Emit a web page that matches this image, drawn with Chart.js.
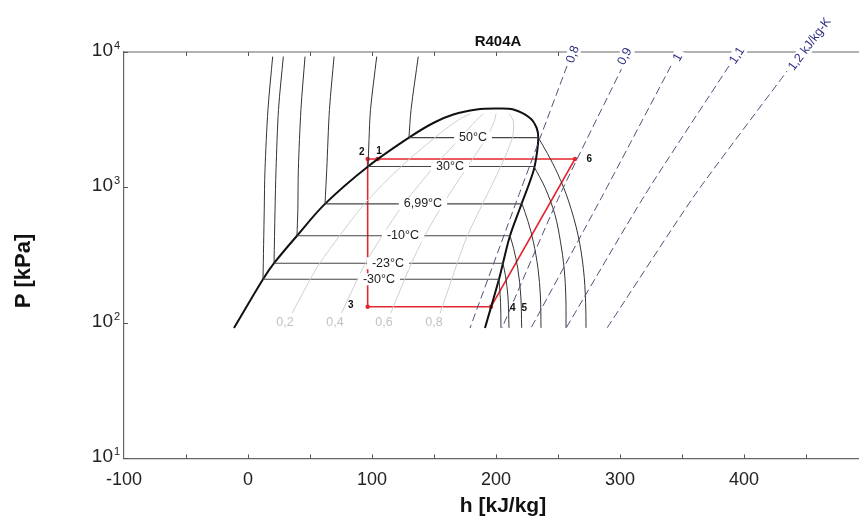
<!DOCTYPE html>
<html><head><meta charset="utf-8">
<script src="https://cdn.jsdelivr.net/npm/chart.js@4/dist/chart.umd.min.js"></script>
<style>
html,body{margin:0;padding:0;background:#fff;overflow:hidden;width:859px;height:517px;}
#wrap{width:859px;height:517px;overflow:hidden;position:relative;}
canvas{display:block;}
</style></head><body>
<div id="wrap"><canvas id="c" width="880" height="517" style="width:880px;height:517px"></canvas></div>
<script>
const FONT = "'Liberation Sans', Arial, Helvetica, sans-serif";

// axis ticks
const xTickValues = [-100, 0, 100, 200, 300, 400];
const yDecades = [10, 100, 1000, 10000];
const yDecadeExp = ['1', '2', '3', '4'];

// saturation dome (h kJ/kg, P kPa)
const liquidH = [-11.3, 12.1, 21.0, 39.5, 62.1, 96.8, 129.8, 149.4, 165.6, 184.4, 199.2];
const liquidP = [91.6, 210, 276, 440, 757, 1429, 2333, 2992, 3452, 3758, 3820];
const vaporH = [199.2, 214.0, 227.4, 232.8, 234.1, 232.8, 230.1, 219.4, 211.3, 205.6, 202.4, 191.1];
const vaporP = [3820, 3758, 3258, 2748, 2317, 1746, 1312, 705, 440, 276, 210, 91.6];

// isotherms
const isoLabels = ['-30°C', '-23°C', '-10°C', '6,99°C', '30°C', '50°C'];
const isoSatP = [210, 276, 440, 757, 1429, 2333];
const isoLiqH = [12.1, 21.0, 39.5, 62.1, 96.8, 129.8];
const isoVapH = [202.4, 205.6, 211.3, 221.0, 230.6, 234.1];
const isoLabelH = [105.6, 112.9, 125.0, 141.1, 162.9, 181.5];

const subcooledH = [
  [12.1, 13.1, 13.7, 16.1, 19.9],
  [21.0, 21.8, 22.6, 24.6, 28.5],
  [39.5, 40.2, 40.6, 42.7, 46.0],
  [62.1, 63.5, 65.7, 69.4],
  [96.8, 97.6, 98.8, 103.8],
  [129.8, 131.5, 137.3]
];
const subcooledP = [
  [210, 684, 1352, 3758, 9250],
  [276, 684, 1352, 3758, 9250],
  [440, 684, 1352, 3758, 9250],
  [757, 1352, 3758, 9250],
  [1429, 2254, 3758, 9250],
  [2333, 3758, 9250]
];
const superheatedH = [
  [202.4, 203.7, 204.0],
  [205.6, 207.6, 209.6, 210.5],
  [211.3, 214.2, 217.6, 220.0, 220.7],
  [221.0, 225.8, 230.1, 233.9, 235.8, 236.3],
  [230.6, 239.5, 247.5, 252.0, 255.0, 256.3, 256.5],
  [234.1, 241.5, 249.8, 258.5, 266.1, 270.5, 272.3, 272.6]
];
const superheatedP = [
  [210, 141, 92],
  [276, 224, 158, 92],
  [440, 355, 251, 158, 92],
  [757, 562, 398, 251, 158, 92],
  [1429, 1000, 631, 398, 251, 158, 92],
  [2333, 1780, 1260, 795, 447, 251, 141, 92]
];

// vapour quality lines
const qualityLabels = ['0,2', '0,4', '0,6', '0,8'];
const qualityP = [118, 210, 276, 440, 757, 1429, 2333, 3114, 3510];
const qualityH = [
  [35.6, 50.2, 57.9, 73.9, 93.9, 123.6, 150.7, 168.7, 179.5],
  [75.4, 88.2, 94.8, 108.2, 125.7, 150.3, 171.5, 183.8, 189.8],
  [115.1, 126.3, 131.8, 142.6, 157.4, 177.1, 192.4, 198.8, 200.0],
  [154.9, 164.3, 168.7, 176.9, 189.2, 203.8, 213.2, 213.9, 210.3]
];
const qualityLabelH = [29.8, 70.2, 109.7, 150.0];
const qualityLabelP = 100;

// isentropes (kJ/kg-K)
const entropyLabels = ['0,8', '0,9', '1', '1,1', '1,2 kJ/kg-K'];
const entropyP = [7900, 884, 91.6];
const entropyH = [
  [257.3, 218.5, 179.0],
  [302.4, 251.6, 204.8],
  [341.1, 286.3, 228.2],
  [387.9, 320.2, 256.5],
  [437.9, 360.5, 289.5]
];
const entropyLabelH = [262.1, 304.0, 346.8, 394.4, 453.0];
const entropyLabelP = [9583, 9263, 9105, 9422, 11400];
const entropyLabelAngle = [70, 63, 61, 57, 53];

// refrigeration cycle 3-2-1-6-4-3
const cycleH = [96.5, 96.5, 104.6, 263.7, 196.0, 96.5];
const cycleP = [131.8, 1622, 1622, 1622, 131.8, 131.8];
const pointNames = ['1', '2', '3', '4', '5', '6'];
const pointLabelH = [105.6, 91.7, 82.8, 213.5, 222.8, 275.2];
const pointLabelP = [1845, 1815, 135.6, 128.2, 128.2, 1603];

const zip = (hs, ps) => hs.map((h, i) => ({x: h, y: Array.isArray(ps) ? ps[i] : ps}));
const line = (data, color, width, extra) => Object.assign({
  data, showLine: true, borderColor: color, borderWidth: width, pointRadius: 0, fill: false, tension: 0
}, extra || {});

const datasets = [];
qualityH.forEach(hs => datasets.push(line(zip(hs, qualityP), '#cfcfcf', 1, {tension: 0.3})));
entropyH.forEach(hs => datasets.push(line(zip(hs, entropyP), '#50507a', 1, {tension: 0.2, borderDash: [8, 4]})));
subcooledH.forEach((hs, i) => datasets.push(line(zip(hs, subcooledP[i]), '#333', 1, {tension: 0.3})));
superheatedH.forEach((hs, i) => datasets.push(line(zip(hs, superheatedP[i]), '#333', 1, {tension: 0.35})));
isoSatP.forEach((p, i) => datasets.push(line([{x: isoLiqH[i], y: p}, {x: isoVapH[i], y: p}], '#444', 1.1)));
datasets.push(line(zip(liquidH, liquidP).concat(zip(vaporH, vaporP).slice(1)), '#111', 2, {tension: 0.35}));
datasets.push(line(zip(cycleH, cycleP), '#e3262f', 1.6, {
  pointRadius: [2.2, 2.2, 2.2, 2.2, 2.2, 0], pointBackgroundColor: '#e3262f', pointBorderColor: '#e3262f', pointBorderWidth: 0
}));

function boxText(ctx, txt, x, y, font, color, padX, boxH) {
  ctx.font = font;
  const w = ctx.measureText(txt).width;
  ctx.fillStyle = '#fff';
  ctx.fillRect(x - w / 2 - padX, y - boxH / 2, w + 2 * padX, boxH);
  ctx.fillStyle = color;
  ctx.textAlign = 'center'; ctx.textBaseline = 'middle';
  ctx.fillText(txt, x, y);
}

const decor = {
  id: 'decor',
  afterDraw(chart) {
    const {ctx, chartArea: a, scales: {x, y}} = chart;
    ctx.save();
    // top border
    ctx.strokeStyle = '#666'; ctx.lineWidth = 1.2;
    ctx.beginPath(); ctx.moveTo(a.left, a.top); ctx.lineTo(a.right, a.top); ctx.stroke();
    // inward ticks
    ctx.lineWidth = 1; ctx.strokeStyle = '#555';
    ctx.beginPath();
    for (let v = -50; v <= 500; v += 50) {
      const px = Math.round(x.getPixelForValue(v)) + 0.5;
      ctx.moveTo(px, a.bottom); ctx.lineTo(px, a.bottom - 4);
      ctx.moveTo(px, a.top); ctx.lineTo(px, a.top + 4);
    }
    yDecades.forEach(d => {
      const py = Math.round(y.getPixelForValue(d)) + 0.5;
      ctx.moveTo(a.left, py); ctx.lineTo(a.left + 4, py);
    });
    ctx.stroke();
    // y tick labels 10^n
    yDecades.forEach((d, i) => {
      const py = y.getPixelForValue(d);
      ctx.fillStyle = '#222';
      ctx.font = '19px ' + FONT; ctx.textAlign = 'right'; ctx.textBaseline = 'middle';
      ctx.fillText('10', a.left - 11, py - 1.5);
      ctx.font = '11px ' + FONT; ctx.textAlign = 'left'; ctx.textBaseline = 'alphabetic';
      ctx.fillText(yDecadeExp[i], a.left - 10, py - 3);
    });
    // axis titles
    ctx.save();
    ctx.translate(24, 271); ctx.rotate(-Math.PI / 2);
    ctx.font = 'bold 22px ' + FONT; ctx.fillStyle = '#111';
    ctx.textAlign = 'center'; ctx.textBaseline = 'middle';
    ctx.fillText('P [kPa]', 0, 0);
    ctx.restore();
    ctx.font = 'bold 21px ' + FONT; ctx.fillStyle = '#111';
    ctx.textAlign = 'center'; ctx.textBaseline = 'middle';
    ctx.fillText('h [kJ/kg]', 503, 506);
    // chart title
    ctx.font = 'bold 15px ' + FONT; ctx.fillStyle = '#111';
    ctx.textAlign = 'center'; ctx.textBaseline = 'middle';
    ctx.fillText('R404A', 498, 42);
    // isotherm labels
    isoLabels.forEach((t, i) => {
      boxText(ctx, t, x.getPixelForValue(isoLabelH[i]), y.getPixelForValue(isoSatP[i]), '12.5px ' + FONT, '#222', 5, 12);
    });
    // quality labels
    qualityLabels.forEach((t, i) => {
      ctx.font = '12.5px ' + FONT; ctx.fillStyle = '#c2c2c2';
      ctx.textAlign = 'center'; ctx.textBaseline = 'middle';
      ctx.fillText(t, x.getPixelForValue(qualityLabelH[i]), y.getPixelForValue(qualityLabelP));
    });
    // entropy labels
    entropyLabels.forEach((t, i) => {
      ctx.save();
      ctx.translate(x.getPixelForValue(entropyLabelH[i]), y.getPixelForValue(entropyLabelP[i]));
      ctx.rotate(-entropyLabelAngle[i] * Math.PI / 180);
      boxText(ctx, t, 0, 0, '12.5px ' + FONT, '#2f2f85', 4, 13);
      ctx.restore();
    });
    // cycle point labels
    pointNames.forEach((t, i) => {
      ctx.font = 'bold 10px ' + FONT; ctx.fillStyle = '#111';
      ctx.textAlign = 'center'; ctx.textBaseline = 'middle';
      ctx.fillText(t, x.getPixelForValue(pointLabelH[i]), y.getPixelForValue(pointLabelP[i]));
    });
    ctx.restore();
  }
};

new Chart(document.getElementById('c'), {
  type: 'scatter',
  data: {datasets},
  options: {
    responsive: false,
    animation: false,
    devicePixelRatio: 1,
    layout: {padding: {left: 124, top: 52, right: 12, bottom: 15}},
    plugins: {legend: {display: false}, tooltip: {enabled: false}, title: {display: false}},
    scales: {
      x: {
        type: 'linear', position: 'bottom', min: -100, max: 500,
        grid: {display: false, drawTicks: false},
        border: {display: true, color: '#666', width: 1.2},
        afterBuildTicks: s => { s.ticks = xTickValues.concat([500]).map(v => ({value: v})); },
        ticks: {
          font: {family: FONT, size: 18}, color: '#222', padding: 11, maxRotation: 0, autoSkip: false,
          callback: v => (v === 500 ? '' : String(v))
        },
        title: {display: false}
      },
      y: {
        type: 'logarithmic', position: 'left', min: 10, max: 10000,
        grid: {display: false, drawTicks: false},
        border: {display: true, color: '#666', width: 1.2},
        ticks: {display: false},
        title: {display: false}
      }
    }
  },
  plugins: [decor]
});
</script>
</body></html>
